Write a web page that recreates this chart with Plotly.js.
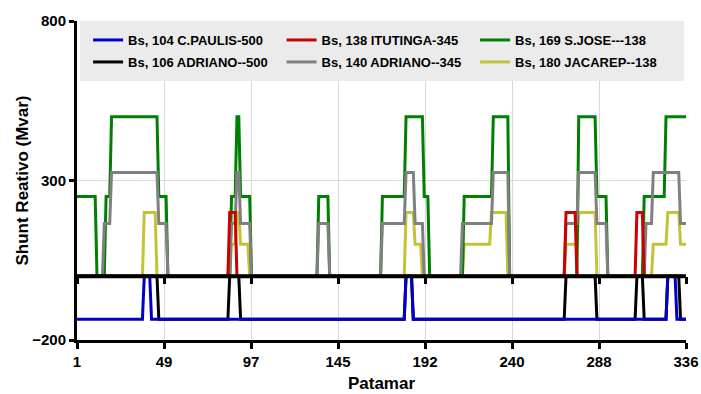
<!DOCTYPE html>
<html><head><meta charset="utf-8">
<script src="https://cdn.plot.ly/plotly-3.0.1.min.js"></script>
<style>html,body{margin:0;padding:0;background:#fff}#chart{width:701px;height:394px}</style>
</head><body><div id="chart"></div>
<script>
// X axis: patamares 1..336, seven equal divisions (labels rounded as in the source)
const patamarFirst = 1;
const patamarLast = 336;
const xTickVals = [1, 48.857, 96.714, 144.571, 192.429, 240.286, 288.143, 336];
const xTickText = ['1', '49', '97', '145', '192', '240', '288', '336'];
const yTickVals = [-200, 300, 800];

// Series values, as runs: [fromPatamar, toPatamar, Mvar]
const bs104 = [[1,37,-135],[38,41,0],[42,181,-135],[182,185,0],[186,325,-135],[326,330,0],[331,336,-135]];
const bs106 = [[1,45,0],[46,84,-135],[85,90,0],[91,181,-135],[182,185,0],[186,269,-135],[270,286,0],[287,308,-135],[309,312,0],[313,325,-135],[326,332,0],[333,336,-135]];
const bs138 = [[1,84,0],[85,88,200],[89,269,0],[270,275,200],[276,308,0],[309,312,200],[313,336,0]];
const bs140 = [[1,15,0],[16,19,165],[20,45,325],[46,50,165],[51,85,0],[86,88,165],[89,90,325],[91,96,165],[97,133,0],[134,139,165],[140,168,0],[169,181,165],[182,186,325],[187,191,165],[192,212,0],[213,229,165],[230,238,325],[239,269,0],[270,276,165],[277,286,325],[287,292,165],[293,313,0],[314,317,165],[318,332,325],[333,336,165]];
const bs169 = [[1,11,250],[12,16,0],[17,19,250],[20,45,500],[46,50,250],[51,85,0],[86,88,250],[89,90,500],[91,96,250],[97,133,0],[134,139,250],[140,168,0],[169,181,250],[182,191,500],[192,194,250],[195,213,0],[214,229,250],[230,238,500],[239,276,0],[277,286,500],[287,292,250],[293,312,0],[313,324,250],[325,336,500]];
const bs180 = [[1,37,0],[38,44,200],[45,85,0],[86,88,100],[89,90,200],[91,95,100],[96,181,0],[182,186,200],[187,190,100],[191,213,0],[214,228,100],[229,237,200],[238,269,0],[270,276,100],[277,286,200],[287,317,0],[318,325,100],[326,332,200],[333,336,100]];

const names = {
  b104: 'Bs, 104 C.PAULIS-500',
  b106: 'Bs, 106 ADRIANO--500',
  b138: 'Bs, 138 ITUTINGA-345',
  b140: 'Bs, 140 ADRIANO--345',
  b169: 'Bs, 169 S.JOSE---138',
  b180: 'Bs, 180 JACAREP--138'
};

function expand(runs) {
  const out = [];
  runs.forEach(function (r) { for (let i = r[0]; i <= r[1]; i++) out.push(r[2]); });
  return out;
}
const patamar = [];
for (let i = patamarFirst; i <= patamarLast; i++) patamar.push(i);

const FONT = 'Liberation Sans, Arial, Helvetica, sans-serif';
function tr(runs, name, color, legend, rank) {
  return {
    type: 'scatter', mode: 'lines', x: patamar, y: expand(runs), name: name,
    line: {color: color, width: 3}, legend: legend, legendrank: rank, hoverinfo: 'skip'
  };
}

const data = [
  tr(bs180, names.b180, '#c3c337', 'legend2', 3),
  tr(bs169, names.b169, '#008000', 'legend', 3),
  tr(bs140, names.b140, '#808080', 'legend2', 2),
  tr(bs138, names.b138, '#cc0000', 'legend', 2),
  tr(bs106, names.b106, '#000000', 'legend2', 1),
  tr(bs104, names.b104, '#0000cc', 'legend', 1),
  {type: 'scatter', mode: 'lines', x: [patamarFirst, patamarLast], y: [null, null], xaxis: 'x2', showlegend: false, hoverinfo: 'skip'}
];

const legendCommon = {
  orientation: 'h', xanchor: 'left', yanchor: 'middle', bgcolor: 'rgba(0,0,0,0)',
  font: {family: FONT, size: 13, weight: 'bold', color: '#000'},
  entrywidth: 148.5, entrywidthmode: 'pixels', itemwidth: 30, traceorder: 'normal'
};

const layout = {
  width: 701, height: 394,
  margin: {l: 77, r: 15, t: 21, b: 54},
  paper_bgcolor: '#fff', plot_bgcolor: '#fff',
  font: {family: FONT, color: '#000'},
  showlegend: true,
  legend: Object.assign({}, legendCommon, {x: 0.0182, y: 0.9404}),
  legend2: Object.assign({}, legendCommon, {x: 0.0182, y: 0.8715}),
  xaxis: {
    range: [patamarFirst, patamarLast], tickmode: 'array', tickvals: xTickVals, ticktext: xTickText,
    ticks: 'outside', ticklen: 6, tickwidth: 3, tickcolor: '#000',
    showline: true, linewidth: 3, linecolor: '#000',
    showgrid: true, gridcolor: '#d9d9d9', gridwidth: 1, zeroline: false,
    tickfont: {family: FONT, size: 15, weight: 'bold', color: '#000'},
    title: {text: 'Patamar', font: {family: FONT, size: 17, weight: 'bold', color: '#000'}, standoff: 9}
  },
  xaxis2: {
    overlaying: 'x', anchor: 'free', position: 0.2,
    range: [patamarFirst, patamarLast], tickmode: 'array', tickvals: xTickVals, ticktext: xTickText,
    ticks: 'outside', ticklen: 7, tickwidth: 3, tickcolor: '#000',
    showline: false, showgrid: false, zeroline: false, showticklabels: false
  },
  yaxis: {
    range: [-200, 800], tickmode: 'array', tickvals: yTickVals,
    ticks: 'outside', ticklen: 5, tickwidth: 3, tickcolor: '#000',
    showline: true, linewidth: 3, linecolor: '#000',
    showgrid: true, gridcolor: '#d9d9d9', gridwidth: 1, zeroline: false,
    tickfont: {family: FONT, size: 15, weight: 'bold', color: '#000'},
    title: {text: 'Shunt Reativo (Mvar)', font: {family: FONT, size: 17, weight: 'bold', color: '#000'}, standoff: 0}
  },
  shapes: [
    {type: 'rect', xref: 'paper', yref: 'paper', x0: 0.005, x1: 0.997, y0: 0.812, y1: 1,
     fillcolor: '#ebebeb', line: {width: 0}, layer: 'above'},
    {type: 'line', xref: 'x', yref: 'y', x0: patamarFirst, x1: patamarLast, y0: 0, y1: 0,
     line: {color: '#000', width: 4}, layer: 'above'}
  ]
};

Plotly.newPlot('chart', data, layout, {displayModeBar: false, staticPlot: true});
</script>
</body></html>
